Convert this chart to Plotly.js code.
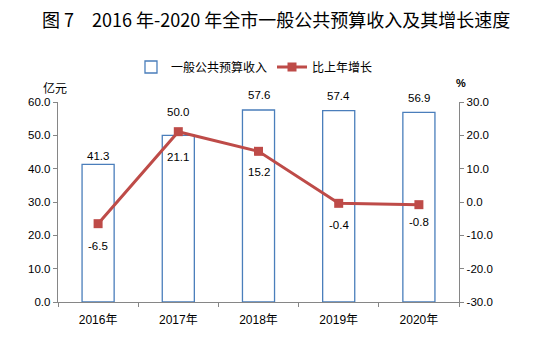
<!DOCTYPE html>
<html><head><meta charset="utf-8">
<script src="https://cdn.plot.ly/plotly-3.0.1.min.js"></script>
<style>html,body{margin:0;padding:0;background:#fff}#chart{width:536px;height:341px}</style>
</head><body><div id="chart"></div>
<script>
const categories = ['2016年','2017年','2018年','2019年','2020年'];
const revenue = [41.3, 50.0, 57.6, 57.4, 56.9];
const growth = [-6.5, 21.1, 15.2, -0.4, -0.8];
const leftTicks = [0,10,20,30,40,50,60];
const rightTicks = [-30,-20,-10,0,10,20,30];

// label placement offsets (pixels), layout only
const barLabelLift = [8, 23, 15, 15, 14];
const lineLabelDrop = [22, 25, 21, 22, 17];

const fontFam = '"Liberation Sans", "Noto Sans CJK SC", sans-serif';
const cjk = '"Noto Sans CJK SC", sans-serif';
const bar = {
  type:'bar', name:'一般公共预算收入', x:categories, y:revenue,
  width:0.4,
  marker:{color:'#ffffff', line:{color:'#4A7EBB', width:1.3}},
  hoverinfo:'skip'
};
const line = {
  type:'scatter', mode:'lines+markers', name:'比上年增长', x:categories, y:growth, yaxis:'y2',
  line:{color:'#BE4B48', width:3},
  marker:{symbol:'square', size:9, color:'#BE4B48'},
  hoverinfo:'skip'
};
const labelAnn = [];
categories.forEach((c,i)=>{
  labelAnn.push({x:c, y:revenue[i], xref:'x', yref:'y', text:revenue[i].toFixed(1), showarrow:false,
    yshift:barLabelLift[i], yanchor:'middle', font:{size:11.5, color:'#000', family:fontFam}});
  labelAnn.push({x:c, y:growth[i], xref:'x', yref:'y2', text:growth[i].toFixed(1), showarrow:false,
    yshift:-lineLabelDrop[i], yanchor:'middle', font:{size:11.5, color:'#000', family:fontFam}});
});
const layout = {
  width:536, height:341,
  margin:{l:58, r:77, t:102, b:39},
  paper_bgcolor:'#fff', plot_bgcolor:'#fff',
  font:{family:fontFam, size:11, color:'#000'},
  title:{text:'图 7　2016 年-2020 年全市一般公共预算收入及其增长速度', x:0.515, xanchor:'center', y:0.94, yanchor:'middle',
    font:{family:cjk, size:18, color:'#000'}},
  showlegend:true,
  legend:{orientation:'h', x:0.49, xanchor:'center', y:1.175, yanchor:'middle',
    font:{family:cjk, size:12, color:'#000'}, itemwidth:30, traceorder:'normal'},
  xaxis:{type:'category', showline:true, linecolor:'#868686', linewidth:1.3, ticks:'outside', tickson:'boundaries',
    ticklen:4, tickcolor:'#868686', showgrid:false, zeroline:false, ticklabelstandoff:6,
    tickfont:{family:fontFam, size:12, color:'#000'}},
  yaxis:{range:[0,60], tickvals:leftTicks, ticktext:leftTicks.map(v=>v.toFixed(1)),
    showline:true, linecolor:'#868686', linewidth:1.3, ticks:'outside', ticklen:4, tickcolor:'#868686',
    showgrid:false, zeroline:false, tickfont:{size:11.5, color:'#000'}},
  yaxis2:{range:[-30,30], overlaying:'y', side:'right', tickvals:rightTicks, ticktext:rightTicks.map(v=>v.toFixed(1)),
    showline:true, linecolor:'#868686', linewidth:1.3, ticks:'outside', ticklen:4, tickcolor:'#868686',
    showgrid:false, zeroline:false, tickfont:{size:11.5, color:'#000'}},
  annotations:[
    {text:'亿元', xref:'paper', yref:'paper', x:-0.0075, y:1.07, xanchor:'center', yanchor:'middle', showarrow:false,
     font:{family:cjk, size:12, color:'#000'}},
    {text:'%', xref:'paper', yref:'paper', x:1.004, y:1.0965, xanchor:'center', yanchor:'middle', showarrow:false,
     font:{size:11, color:'#000', weight:'bold'}}
  ].concat(labelAnn)
};
Plotly.newPlot('chart', [bar, line], layout, {displayModeBar:false, staticPlot:true});
</script></body></html>
